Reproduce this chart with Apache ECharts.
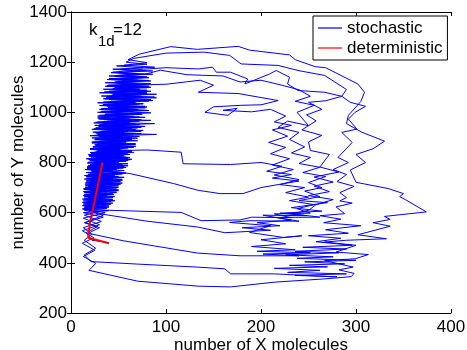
<!DOCTYPE html>
<html>
<head>
<meta charset="utf-8">
<script src="https://cdn.jsdelivr.net/npm/echarts@6/dist/echarts.min.js"></script>
<style>
html,body{margin:0;padding:0;background:#fff;}
#chart{width:467px;height:350px;}
</style>
</head>
<body>
<div id="chart"></div>
<script>
// ---- data ----
const xTicks = [0, 100, 200, 300, 400];
const yTicks = [200, 400, 600, 800, 1000, 1200, 1400];
const seriesNames = ['stochastic', 'deterministic'];
const paramLabel = ['k', '1d', '=12'];

const loop1 = [[40,480],[22,490],[16,520],[28,545],[15,560],[34,590],[14,610],
[38,618],[15,625],[30,632],[13,638],[42,645],[17,652],[36,658],[14,665],[45,672],[20,678],[33,685],[14,692],[48,698],[18,705],[40,712],[15,718],[52,725],[22,731],[44,738],[16,745],[50,752],[20,758],[38,765],[15,772],[55,778],[24,785],[47,792],[17,798],[58,805],[22,812],[50,818],[19,825],[62,832],[26,838],[54,845],[20,852],[60,858],[28,865],[66,872],[22,878],[56,885],[25,892],[64,898],[30,905],[90,912],[26,918],[60,925],[22,932],[70,938],[32,945],[58,952],[24,958],[72,965],[34,972],[62,978],[28,985],[75,992],[36,998],[66,1005],[30,1012],[78,1018],[38,1025],[70,1032],[28,1038],[82,1045],[40,1052],[68,1058],[32,1065],[90,1072],[42,1078],[74,1085],[34,1092],[80,1098],[44,1105],[70,1112],[36,1118],[84,1125],[46,1132],[76,1138],[40,1145],[86,1152],[50,1158],[72,1165],[44,1172],[88,1180],[56,1188],[80,1198],[60,1210],[72,1232],
[105,1262],[133,1251],[176,1263],[188,1248],[230,1229],[236,1210],[257,1182],[268,1178],[302,1113],[309,1080],[305,1043],[292,988],[290,955],[306,921],[330,885],[318,855],[300,832],[310,800],[294,770],[300,721],[334,696],[350,676],[346,664],[352,652],[374,603],[330,585],[336,573],[318,560],[336,546],[302,512],[332,496],[290,490],[267,483],[300,470],[279,443],[313,433],[299,416],[267,409],[297,383],[282,372],[298,358],[295,345],[267,336],[214,323],[168,304],[134,307],[70,327],[19,370]];

const loop2 = [[26,398],[13,425],[25,450],[12,478],[24,500],[12,528],[30,552],[13,578],[36,600],[12,615],
[40,622],[16,628],[34,635],[12,641],[46,648],[19,655],[30,661],[15,668],[44,675],[18,681],[38,688],[13,695],[50,701],[21,708],[42,715],[16,721],[54,728],[19,734],[46,741],[14,748],[40,755],[22,761],[56,768],[17,775],[48,781],[20,788],[60,795],[24,801],[44,808],[16,815],[58,821],[21,828],[52,835],[27,841],[64,848],[20,855],[56,861],[26,868],[68,875],[23,881],[52,888],[28,895],[62,901],[24,908],[74,915],[30,921],[56,928],[26,935],[68,941],[33,948],[88,955],[28,961],[64,968],[35,975],[72,981],[30,988],[60,995],[37,1001],[80,1008],[32,1015],[70,1021],[40,1028],[76,1035],[34,1041],[66,1048],[42,1055],[90,1058],[38,1064],[78,1071],[30,1078],[84,1084],[44,1091],[72,1098],[36,1104],[80,1111],[48,1118],[68,1124],[38,1131],[82,1138],[46,1144],[74,1151],[42,1158],[86,1165],[52,1171],[76,1178],[48,1185],[80,1192],[58,1200],[66,1215],
[100,1236],[140,1240],[167,1227],[179,1193],[218,1187],[240,1166],[267,1147],[290,1091],[285,1064],[294,1040],[310,1024],[299,1000],[292,973],[301,933],[285,920],[296,880],[281,820],[292,800],[276,772],[290,752],[280,724],[298,705],[283,680],[290,660],[283,647],[296,638],[279,623],[288,596],[262,588],[284,574],[266,560],[305,548],[268,532],[292,518],[250,508],[284,498],[258,484],[296,470],[244,462],[290,455],[236,446],[282,440],[226,432],[276,424],[238,418],[300,410],[246,404],[288,396],[230,390],[270,384],[214,378],[262,370],[228,362],[290,356],[236,350],[280,344],[214,356],[168,356],[162,376],[133,383],[70,395],[21,405]];

const loop3 = [[14,432],[26,458],[14,490],[22,515],[13,540],[32,565],[14,590],[30,605],
[13,614],[36,620],[14,627],[42,634],[18,640],[32,647],[12,654],[44,660],[16,667],[38,674],[14,680],[48,687],[20,694],[36,700],[15,707],[52,714],[18,720],[42,727],[14,734],[48,740],[24,747],[54,754],[16,760],[44,767],[20,774],[58,780],[18,787],[46,794],[22,800],[56,807],[18,814],[62,820],[26,827],[50,834],[20,840],[60,847],[24,854],[66,860],[28,867],[54,874],[22,880],[70,887],[26,894],[58,900],[20,907],[66,914],[30,920],[60,927],[24,934],[74,940],[32,947],[62,954],[26,960],[70,967],[30,974],[78,980],[34,987],[64,994],[28,1000],[82,1007],[36,1014],[68,1020],[30,1027],[76,1034],[40,1040],[86,1047],[34,1054],[70,1060],[42,1067],[80,1074],[36,1080],[74,1087],[44,1094],[84,1100],[38,1107],[72,1114],[46,1120],[82,1127],[40,1134],[78,1140],[48,1147],[70,1154],[44,1160],[76,1172],
[100,1178],[134,1173],[149,1180],[153,1160],[168,1160],[186,1133],[183,1113],[209,1153],[216,1167],[230,1140],[228,1113],[239,1087],[267,1080],[285,1064],[268,1046],[250,1040],[264,1012],[248,990],[258,966],[243,930],[264,908],[250,882],[252,848],[272,832],[262,782],[282,762],[256,742],[276,722],[256,706],[272,684],[250,668],[276,652],[258,632],[250,609],[232,596],[262,582],[216,581],[240,566],[188,568],[167,561],[210,548],[188,521],[224,501],[243,508],[200,492],[226,476],[190,465],[236,452],[196,446],[252,440],[202,435],[240,428],[178,428],[133,439],[55,488],[18,518]];

const loop4 = [[30,540],[14,560],[34,582],[13,600],
[40,608],[15,615],[28,621],[12,628],[38,634],[16,641],[46,648],[20,654],[34,661],[13,668],[42,674],[17,681],[50,688],[14,694],[40,701],[20,708],[52,714],[16,721],[44,728],[19,734],[56,741],[15,748],[48,754],[22,761],[40,768],[17,774],[54,781],[21,788],[46,794],[18,801],[60,808],[24,814],[52,821],[19,828],[58,834],[25,841],[48,848],[21,854],[64,861],[27,868],[56,874],[22,881],[68,888],[26,894],[54,901],[29,908],[62,914],[23,921],[76,928],[31,934],[58,941],[25,948],[68,954],[33,961],[84,968],[29,974],[66,981],[35,988],[74,994],[31,1001],[62,1008],[38,1014],[80,1021],[33,1028],[72,1034],[41,1041],[78,1048],[36,1054],[88,1061],[43,1068],[70,1074],[35,1081],[80,1088],[45,1094],[74,1101],[39,1108],[84,1114],[47,1121],[70,1128],[42,1134],[80,1141],[52,1147],[78,1152],
[94,1168],[122,1150],[160,1145],[178,1121],[200,1128],[220,1110],[240,1090],[252,1064],[236,1044],[256,1028],[238,1000],[250,947],[228,965],[218,940],[240,920],[230,892],[246,862],[232,838],[252,820],[240,796],[262,781],[244,760],[268,744],[250,720],[264,700],[246,686],[262,664],[240,648],[270,640],[232,620],[264,606],[220,598],[248,588],[202,590],[232,570],[196,560],[220,548],[180,540],[210,530],[162,520],[133,543],[80,566],[33,594]];

const loop5 = [[14,618],[36,624],[13,631],[44,638],[17,644],[30,651],[14,658],[46,664],[19,671],[38,678],[13,684],[50,691],[18,698],[42,704],[15,711],[54,718],[21,724],[44,731],[16,738],[50,744],[19,751],[58,758],[23,764],[42,771],[17,778],[56,784],[20,791],[50,798],[26,804],[62,811],[21,818],[54,824],[18,831],[60,838],[27,844],[52,851],[23,858],[68,864],[25,871],[58,878],[30,884],[64,891],[22,898],[72,904],[28,911],[56,918],[32,924],[68,931],[26,938],[78,944],[30,951],[62,958],[35,964],[74,971],[28,978],[66,984],[36,991],[84,998],[32,1004],[70,1011],[39,1018],[78,1024],[34,1031],[68,1038],[42,1044],[84,1051],[37,1058],[74,1064],[44,1071],[80,1078],[40,1084],[72,1091],[46,1098],[82,1104],[60,1108],
[100,1112],[136,1128],[150,1108],[134,1080],[176,1075],[218,1047],[200,1030],[179,1028],[150,1022],[141,1000],[165,988],[175,1016],[160,1008],[190,1002],[210,1012],[226,985],[214,962],[232,948],[212,930],[228,905],[208,880],[226,860],[210,835],[230,815],[212,790],[234,772],[214,750],[240,732],[220,712],[246,700],[226,680],[250,662],[230,648],[256,632],[238,616],[252,598],[214,595],[232,580],[190,582],[178,571],[137,568],[116,601],[27,611]];

const loop6 = [[14,620],[40,627],[16,633],[34,640],[13,647],[44,653],[18,660],[38,667],[14,673],[48,680],[20,687],[36,693],[15,700],[50,707],[19,713],[44,720],[16,727],[54,733],[22,740],[46,747],[18,753],[56,760],[21,767],[48,773],[17,780],[60,787],[24,793],[50,800],[20,807],[64,813],[26,820],[56,827],[22,833],[66,840],[28,846],[80,850],
[116,841],[118,795],[168,792],[200,800],[222,785],[206,765],[232,752],[212,738],[240,726],[218,712],[200,700],[181,676],[157,676],[134,689],[108,716],[62,756],[30,770]];

const tail = [[50,777],[17,784],[54,791],[22,797],[46,804],[19,811],[60,817],[25,824],[52,831],[21,837],[64,844],[27,851],[56,857],[23,864],[68,871],[28,877],[58,884],[25,891],[70,897],[30,904],[60,911],[27,917],[74,924],[32,931],[64,937],[29,944],[72,951],[34,958],[62,964],[38,970]];

const deterministic = [[40,478],[30,488],[18,500],[20,560],[25,650],[30,740],[33,800]];

// ---- chart ----
const stochastic = [].concat(loop1, loop2, loop3, loop4, loop5, loop6, tail);
const FONT = "'Liberation Sans', Arial, Helvetica, sans-serif";
const chart = echarts.init(document.getElementById('chart'), null, {renderer: 'canvas'});

const axisCommon = {
  axisLine: {show: true, lineStyle: {color: '#000', width: 1}},
  axisTick: {show: true, inside: true, length: 4, lineStyle: {color: '#000', width: 1}},
  splitLine: {show: false}
};
const plain = v => String(v);

chart.setOption({
  animation: false,
  backgroundColor: '#fff',
  textStyle: {fontFamily: FONT},
  grid: {left: 71, right: 16, top: 12, bottom: 37, containLabel: false, outerBoundsMode: 'none'},
  xAxis: [
    Object.assign({
      type: 'value', min: xTicks[0], max: xTicks[xTicks.length - 1], interval: 100,
      name: 'number of X molecules', nameLocation: 'middle', nameGap: 24, nameMoveOverlap: false,
      nameTextStyle: {fontSize: 17, color: '#000', fontFamily: FONT},
      axisLabel: {fontSize: 17, color: '#000', margin: 6, fontFamily: FONT, formatter: plain}
    }, axisCommon),
    Object.assign({
      type: 'value', position: 'top', min: xTicks[0], max: xTicks[xTicks.length - 1], interval: 100,
      axisLabel: {show: false}
    }, axisCommon)
  ],
  yAxis: [
    Object.assign({
      type: 'value', min: yTicks[0], max: yTicks[yTicks.length - 1], interval: 200,
      name: 'number of Y molecules', nameLocation: 'middle', nameGap: 44, nameMoveOverlap: false,
      nameTextStyle: {fontSize: 17, color: '#000', fontFamily: FONT},
      axisLabel: {fontSize: 17, color: '#000', margin: 4, fontFamily: FONT, formatter: plain}
    }, axisCommon),
    Object.assign({
      type: 'value', position: 'right', min: yTicks[0], max: yTicks[yTicks.length - 1], interval: 200,
      axisLabel: {show: false}
    }, axisCommon)
  ],
  legend: {
    orient: 'vertical', left: 313, top: 16,
    padding: [3, 5, 3, 5], itemGap: 2, itemWidth: 24, itemHeight: 1.2,
    icon: 'rect',
    borderColor: '#000', borderWidth: 1, borderRadius: 0, backgroundColor: '#fff',
    textStyle: {fontSize: 17, color: '#000', lineHeight: 18, fontFamily: FONT},
    data: seriesNames
  },
  graphic: [
    {type: 'text', left: 89, top: 22, style: {text: paramLabel[0], fontSize: 17, fill: '#000', fontFamily: FONT}},
    {type: 'text', left: 98, top: 34, style: {text: paramLabel[1], fontSize: 15, fill: '#000', fontFamily: FONT}},
    {type: 'text', left: 113, top: 22, style: {text: paramLabel[2], fontSize: 17, fill: '#000', fontFamily: FONT}}
  ],
  series: [
    {
      name: seriesNames[0], type: 'line', data: stochastic, symbol: 'none', showSymbol: false,
      lineStyle: {color: '#0000ff', width: 1}, itemStyle: {color: '#0000ff'}, z: 2
    },
    {
      name: seriesNames[1], type: 'line', data: deterministic, symbol: 'none', showSymbol: false,
      lineStyle: {color: '#ff0000', width: 2}, itemStyle: {color: '#ff0000'}, z: 3
    }
  ]
});
</script>
</body>
</html>
